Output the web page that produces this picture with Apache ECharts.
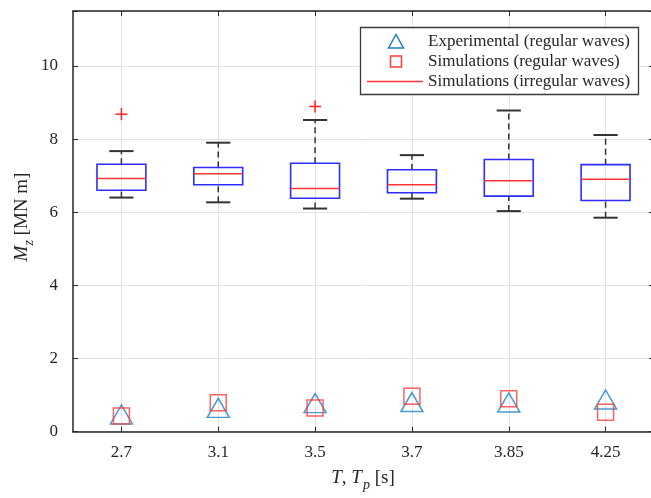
<!DOCTYPE html>
<html>
<head>
<meta charset="utf-8">
<script src="https://cdn.jsdelivr.net/npm/echarts@6/dist/echarts.min.js"></script>
<style>
html,body{margin:0;padding:0;background:#fff;overflow:hidden;width:651px;height:498px;}
#chart{width:664px;height:498px;}
</style>
</head>
<body>
<div id="chart"></div>
<script>
// ---- data ----
var categories = ['2.7', '3.1', '3.5', '3.7', '3.85', '4.25'];
var whiskerLow = [6.40, 6.27, 6.10, 6.37, 6.03, 5.85];
var quartile1  = [6.60, 6.75, 6.38, 6.53, 6.44, 6.32];
var medians    = [6.92, 7.05, 6.65, 6.75, 6.86, 6.90];
var quartile3  = [7.31, 7.22, 7.34, 7.16, 7.44, 7.30];
var whiskerHigh= [7.67, 7.90, 8.52, 7.56, 8.78, 8.11];
var outlierCat = [0, 2];
var outlierVal = [8.68, 8.89];
var experimental = [0.47, 0.65, 0.78, 0.81, 0.80, 0.88];
var simRegular   = [0.43, 0.79, 0.65, 0.97, 0.90, 0.53];
var yTicks = [0, 2, 4, 6, 8, 10];
var legendLabels = ['Experimental (regular waves)', 'Simulations (regular waves)', 'Simulations (irregular waves)'];

var FONT = '"Liberation Serif", "DejaVu Serif", serif';
var AXIS_COLOR = '#262626';
var GRID_COLOR = '#e3e3e3';
var BOX_BLUE = '#2d2dff';
var MED_RED = '#ff3535';
var WHISK = '#333333';
var TRI_BLUE = '#1f7fc8';
var SQ_RED = '#ff3b3b';

var boxData = categories.map(function (c, i) {
  return [i, whiskerLow[i], quartile1[i], medians[i], quartile3[i], whiskerHigh[i]];
});
var outlierData = outlierCat.map(function (c, i) { return [c, outlierVal[i]]; });
var expData = experimental.map(function (v, i) { return [i, v]; });
var simData = simRegular.map(function (v, i) { return [i, v]; });

var chart = echarts.init(document.getElementById('chart'), null, {renderer: 'canvas', width: 664, height: 498});

function renderBox(params, api) {
  var i = api.value(0);
  var lo = api.coord([i, api.value(1)]);
  var q1 = api.coord([i, api.value(2)]);
  var md = api.coord([i, api.value(3)]);
  var q3 = api.coord([i, api.value(4)]);
  var hi = api.coord([i, api.value(5)]);
  var band = api.size([1, 0])[0];
  var bw = band * 0.505;
  var cw = band * 0.25;
  var x = lo[0];
  return {
    type: 'group',
    children: [
      {type: 'line', shape: {x1: x, y1: q3[1], x2: x, y2: hi[1]},
        style: {stroke: WHISK, lineWidth: 1.5, lineDash: [6, 4]}},
      {type: 'line', shape: {x1: x, y1: lo[1], x2: x, y2: q1[1]},
        style: {stroke: WHISK, lineWidth: 1.5, lineDash: [6, 4]}},
      {type: 'line', shape: {x1: x - cw / 2, y1: hi[1], x2: x + cw / 2, y2: hi[1]},
        style: {stroke: WHISK, lineWidth: 2}},
      {type: 'line', shape: {x1: x - cw / 2, y1: lo[1], x2: x + cw / 2, y2: lo[1]},
        style: {stroke: WHISK, lineWidth: 2}},
      {type: 'rect', shape: {x: x - bw / 2, y: q3[1], width: bw, height: q1[1] - q3[1]},
        style: {fill: 'rgba(0,0,0,0)', stroke: BOX_BLUE, lineWidth: 1.6}},
      {type: 'line', shape: {x1: x - bw / 2, y1: md[1], x2: x + bw / 2, y2: md[1]},
        style: {stroke: MED_RED, lineWidth: 1.5}}
    ]
  };
}

function renderPlus(params, api) {
  var p = api.coord([api.value(0), api.value(1)]);
  var h = 6;
  return {
    type: 'group',
    children: [
      {type: 'line', shape: {x1: p[0] - h, y1: p[1], x2: p[0] + h, y2: p[1]}, style: {stroke: '#ff2020', lineWidth: 1.5}},
      {type: 'line', shape: {x1: p[0], y1: p[1] - h, x2: p[0], y2: p[1] + h}, style: {stroke: '#ff2020', lineWidth: 1.5}}
    ]
  };
}

var option = {
  animation: false,
  backgroundColor: '#fff',
  grid: {left: 73, top: 11, width: 581, height: 420.7, containLabel: false},
  xAxis: [{
    type: 'category',
    data: categories,
    boundaryGap: true,
    position: 'bottom',
    axisLine: {show: true, lineStyle: {color: AXIS_COLOR, width: 1.5}},
    axisTick: {show: true, inside: true, alignWithLabel: true, length: 5, lineStyle: {color: AXIS_COLOR, width: 1}},
    axisLabel: {color: '#262626', fontFamily: FONT, fontSize: 17, margin: 12},
    splitLine: {show: true, alignWithLabel: true, lineStyle: {color: GRID_COLOR, width: 1}}
  }, {
    type: 'category',
    data: categories,
    boundaryGap: true,
    position: 'top',
    axisLine: {show: true, onZero: false, lineStyle: {color: AXIS_COLOR, width: 1.5}},
    axisTick: {show: true, inside: true, alignWithLabel: true, length: 5, lineStyle: {color: AXIS_COLOR, width: 1}},
    axisLabel: {show: false},
    splitLine: {show: false}
  }],
  yAxis: [{
    type: 'value',
    min: 0, max: 11.5, interval: 2,
    axisLine: {show: true, lineStyle: {color: AXIS_COLOR, width: 1.5}},
    axisTick: {show: true, inside: true, length: 5, lineStyle: {color: AXIS_COLOR, width: 1}},
    axisLabel: {color: '#262626', fontFamily: FONT, fontSize: 17, margin: 15,
      formatter: function (v) { return yTicks.indexOf(v) >= 0 ? String(v) : ''; }},
    splitLine: {show: true, lineStyle: {color: GRID_COLOR, width: 1}}
  }, {
    type: 'value',
    min: 0, max: 11.5, interval: 2,
    position: 'right',
    axisLine: {show: true, lineStyle: {color: AXIS_COLOR, width: 1.5}},
    axisTick: {show: true, inside: true, length: 5, lineStyle: {color: AXIS_COLOR, width: 1}},
    axisLabel: {show: false},
    splitLine: {show: false}
  }],
  series: [{
    type: 'custom',
    name: 'irregular',
    renderItem: renderBox,
    data: boxData,
    encode: {x: 0, y: [1, 2, 3, 4, 5]},
    z: 3
  }, {
    type: 'custom',
    name: 'outliers',
    renderItem: renderPlus,
    data: outlierData,
    encode: {x: 0, y: 1},
    z: 4
  }, {
    type: 'scatter',
    name: 'experimental',
    data: expData,
    symbol: 'triangle',
    symbolSize: [22, 19],
    itemStyle: {color: 'rgba(0,0,0,0)', borderColor: TRI_BLUE, borderWidth: 1.5},
    z: 5
  }, {
    type: 'scatter',
    name: 'simRegular',
    data: simData,
    symbol: 'rect',
    symbolSize: 16,
    itemStyle: {color: 'rgba(0,0,0,0)', borderColor: SQ_RED, borderWidth: 1.5},
    z: 6
  }],
  graphic: [
    {type: 'rect', z: 100, shape: {x: 360.5, y: 27.5, width: 278, height: 67},
      style: {fill: '#fff', stroke: '#3a3a3a', lineWidth: 1.3}},
    {type: 'polygon', z: 101, shape: {points: [[396, 34.5], [388.5, 48], [403.5, 48]]},
      style: {fill: 'none', stroke: TRI_BLUE, lineWidth: 1.5}},
    {type: 'rect', z: 101, shape: {x: 390.5, y: 56, width: 11, height: 11},
      style: {fill: 'none', stroke: SQ_RED, lineWidth: 1.5}},
    {type: 'line', z: 101, shape: {x1: 367, y1: 81.5, x2: 423, y2: 81.5},
      style: {stroke: MED_RED, lineWidth: 1.5}},
    {type: 'text', z: 101, x: 428, y: 42, style: {text: legendLabels[0], fontFamily: FONT, fontSize: 17, fill: '#262626', verticalAlign: 'middle'}},
    {type: 'text', z: 101, x: 428, y: 62, style: {text: legendLabels[1], fontFamily: FONT, fontSize: 17, fill: '#262626', verticalAlign: 'middle'}},
    {type: 'text', z: 101, x: 428, y: 82, style: {text: legendLabels[2], fontFamily: FONT, fontSize: 17, fill: '#262626', verticalAlign: 'middle'}},
    {type: 'text', z: 101, x: 363, y: 478,
      style: {text: '{it|T}{n|, }{it|T}{sub|p}{n| [s]}', align: 'center', verticalAlign: 'middle', fill: '#262626',
        rich: {
          it: {fontFamily: FONT, fontStyle: 'italic', fontSize: 19, fill: '#262626'},
          n: {fontFamily: FONT, fontSize: 19, fill: '#262626'},
          sub: {fontFamily: FONT, fontStyle: 'italic', fontSize: 14, fill: '#262626', padding: [14, 0, 0, 1]}
        }}},
    {type: 'text', z: 101, x: 22, y: 217, rotation: Math.PI / 2,
      style: {text: '{it|M}{sub|z}{n| [MN m]}', align: 'center', verticalAlign: 'middle', fill: '#262626',
        rich: {
          it: {fontFamily: FONT, fontStyle: 'italic', fontSize: 19, fill: '#262626'},
          n: {fontFamily: FONT, fontSize: 19, fill: '#262626'},
          sub: {fontFamily: FONT, fontStyle: 'italic', fontSize: 14, fill: '#262626', padding: [14, 0, 0, 0]}
        }}}
  ]
};
chart.setOption(option);
</script>
</body>
</html>
